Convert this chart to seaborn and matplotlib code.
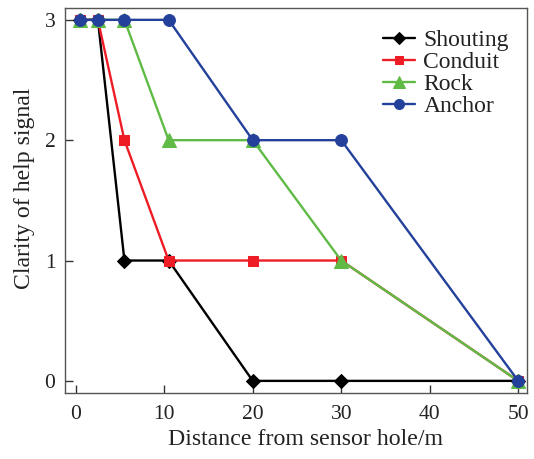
import matplotlib
matplotlib.use("Agg")
import matplotlib.pyplot as plt
import seaborn as sns
import pandas as pd

distance = [0.5, 2.5, 5.5, 10.5, 20, 30, 50]
shouting = [3, 3, 1, 1, 0, 0, 0]
conduit = [3, 3, 2, 1, 1, 1, 0]
rock = [3, 3, 3, 2, 2, 1, 0]
anchor = [3, 3, 3, 3, 2, 2, 0]
series_names = ["Shouting", "Conduit", "Rock", "Anchor"]
colors = ["#000000", "#ee1c24", "#5fbb46", "#23409a"]
markers = ["D", "s", "^", "o"]
msizes = [7.5, 7.5, 10, 8.5]

sns.set_style("white")
plt.rcParams['font.family'] = ['Liberation Serif', 'DejaVu Serif']

rows = []
for name, vals in zip(series_names, [shouting, conduit, rock, anchor]):
    for d, v in zip(distance, vals):
        rows.append({"Distance": d, "Clarity": v, "Series": name})
df = pd.DataFrame(rows)

fig = plt.figure(figsize=(5.34, 4.59), dpi=100)
ax = fig.add_axes([0.122, 0.144, 0.865, 0.839])

for name, c, m, ms in zip(series_names, colors, markers, msizes):
    sub = df[df["Series"] == name]
    sns.lineplot(data=sub, x="Distance", y="Clarity", ax=ax, color=c, marker=m,
                 markersize=ms, markeredgecolor=c, linewidth=1.7, label=name,
                 estimator=None, sort=False)

ax.set_xlim(-1.2, 51)
ax.set_ylim(-0.1, 3.1)
ax.set_xticks([0, 10, 20, 30, 40, 50])
ax.set_yticks([0, 1, 2, 3])
ax.tick_params(direction="in", length=6, width=1, labelsize=15.5, pad=7,
               bottom=True, left=True, top=False, right=False, colors="#333333",
               labelcolor="#222222")
ax.tick_params(axis="x", pad=9)
for s in ax.spines.values():
    s.set_color("#555555")
    s.set_linewidth(1.0)
ax.set_xlabel("Distance from sensor hole/m", fontsize=17.2, color="#222222")
ax.set_ylabel("Clarity of help signal", fontsize=17.1, color="#222222")
ax.xaxis.set_label_coords(0.52, -0.094)
ax.yaxis.set_label_coords(-0.065, 0.53)

leg = ax.legend(loc="upper right", frameon=False, fontsize=17, handlelength=1.35,
                labelspacing=0.02, handletextpad=0.35, borderaxespad=0.3,
                markerscale=0.85, bbox_to_anchor=(0.9965, 0.987))
for t in leg.get_texts():
    t.set_color("#222222")

fig.savefig("out.png", dpi=100)
